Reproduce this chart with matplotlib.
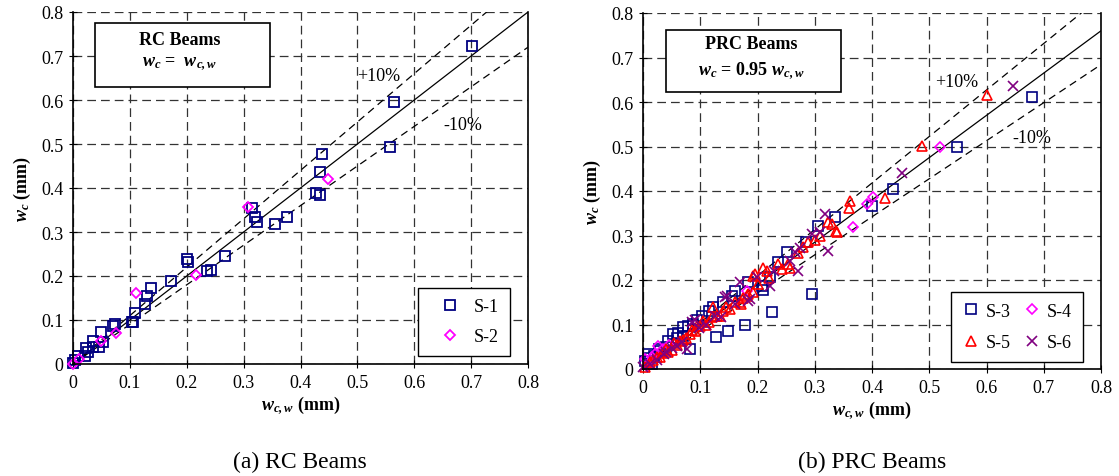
import matplotlib
matplotlib.use("Agg")
import matplotlib.pyplot as plt
import numpy as np
from matplotlib.patches import Rectangle

plt.rcParams['font.family'] = ['Liberation Serif', 'DejaVu Serif']
plt.rcParams['mathtext.fontset'] = 'custom'
plt.rcParams['mathtext.rm'] = 'Liberation Serif'
plt.rcParams['mathtext.it'] = 'Liberation Serif:italic'
plt.rcParams['mathtext.bf'] = 'Liberation Serif:bold'
plt.rcParams['mathtext.bfit'] = 'Liberation Serif:italic:bold'

# ---- data: (a) RC beams
s1_x = [0.701, 0.565, 0.557, 0.437, 0.434, 0.428, 0.434, 0.376, 0.355, 0.323, 0.320, 0.314,
        0.268, 0.242, 0.235, 0.203, 0.200, 0.172, 0.137, 0.130, 0.127, 0.109, 0.105, 0.103,
        0.074, 0.071, 0.050, 0.053, 0.035, 0.036, 0.045, 0.023, 0.027, 0.021, 0.009, 0.003, 0.000]
s1_y = [0.723, 0.595, 0.494, 0.477, 0.436, 0.389, 0.384, 0.333, 0.318, 0.322, 0.333, 0.354,
        0.246, 0.214, 0.212, 0.231, 0.239, 0.188, 0.172, 0.154, 0.136, 0.116, 0.096, 0.095,
        0.091, 0.086, 0.072, 0.049, 0.052, 0.038, 0.038, 0.036, 0.028, 0.019, 0.019, 0.008, 0.003]
s2_x = [0.448, 0.308, 0.217, 0.111, 0.076, 0.049, 0.010, 0.000]
s2_y = [0.420, 0.356, 0.202, 0.161, 0.070, 0.053, 0.011, 0.000]

# ---- data: (b) PRC beams
s3_x = [0.679, 0.548, 0.436, 0.400, 0.335, 0.305, 0.284, 0.251, 0.236, 0.222, 0.207, 0.210,
        0.296, 0.225, 0.178, 0.149, 0.128, 0.184, 0.161, 0.123, 0.103, 0.079, 0.070, 0.053,
        0.044, 0.082, 0.070, 0.009, 0.003, 0.020, 0.030, 0.015, 0.095, 0.115, 0.060, 0.040,
        0.140, 0.155, 0.088, 0.062, 0.028, 0.012]
s3_y = [0.611, 0.498, 0.404, 0.367, 0.341, 0.321, 0.285, 0.262, 0.241, 0.206, 0.187, 0.178,
        0.169, 0.129, 0.099, 0.085, 0.071, 0.196, 0.176, 0.140, 0.120, 0.097, 0.094, 0.079,
        0.064, 0.045, 0.075, 0.034, 0.019, 0.030, 0.040, 0.012, 0.110, 0.130, 0.070, 0.050,
        0.150, 0.165, 0.102, 0.080, 0.045, 0.025]
s4_x = [0.518, 0.401, 0.392, 0.366, 0.181, 0.003, 0.012, 0.021, 0.027, 0.035, 0.045, 0.016, 0.008]
s4_y = [0.500, 0.386, 0.371, 0.320, 0.176, 0.022, 0.015, 0.034, 0.052, 0.045, 0.055, 0.028, 0.010]
s5_x = [0.600, 0.487, 0.423, 0.362, 0.359, 0.330, 0.337, 0.324, 0.338, 0.289, 0.254, 0.236,
        0.257, 0.242, 0.210, 0.196, 0.216, 0.181, 0.193, 0.172, 0.193, 0.152, 0.134, 0.123,
        0.169, 0.184, 0.120, 0.100, 0.094, 0.082, 0.065, 0.041, 0.044, 0.024, 0.012, 0.003,
        0.110, 0.140, 0.160, 0.060, 0.075, 0.050, 0.030, 0.090, 0.130, 0.200, 0.270, 0.300,
        0.105, 0.115, 0.085, 0.070, 0.055, 0.035, 0.018, 0.145, 0.175, 0.220, 0.280, 0.310]
s5_y = [0.616, 0.502, 0.384, 0.378, 0.361, 0.326, 0.309, 0.330, 0.307, 0.285, 0.236, 0.236,
        0.228, 0.225, 0.228, 0.213, 0.221, 0.165, 0.172, 0.146, 0.210, 0.135, 0.120, 0.139,
        0.150, 0.169, 0.116, 0.097, 0.097, 0.079, 0.062, 0.045, 0.038, 0.026, 0.015, 0.005,
        0.100, 0.130, 0.150, 0.055, 0.070, 0.042, 0.028, 0.085, 0.120, 0.190, 0.260, 0.290,
        0.108, 0.105, 0.088, 0.065, 0.058, 0.035, 0.020, 0.140, 0.160, 0.205, 0.275, 0.300]
s6_x = [0.647, 0.452, 0.318, 0.324, 0.309, 0.295, 0.274, 0.266, 0.271, 0.257, 0.228, 0.222,
        0.199, 0.184, 0.169, 0.146, 0.091, 0.143, 0.085, 0.137, 0.187, 0.059, 0.036, 0.012,
        0.000, 0.076, 0.110, 0.050, 0.025, 0.125, 0.160, 0.098, 0.068, 0.040]
s6_y = [0.635, 0.440, 0.348, 0.266, 0.307, 0.303, 0.273, 0.262, 0.221, 0.243, 0.221, 0.187,
        0.206, 0.153, 0.195, 0.165, 0.109, 0.161, 0.105, 0.116, 0.157, 0.052, 0.034, 0.011,
        0.004, 0.045, 0.100, 0.048, 0.020, 0.118, 0.145, 0.092, 0.060, 0.038]

ticks = [0, 0.1, 0.2, 0.3, 0.4, 0.5, 0.6, 0.7, 0.8]
tick_labels = ['0', '0.1', '0.2', '0.3', '0.4', '0.5', '0.6', '0.7', '0.8']

fig = plt.figure(figsize=(11.19, 4.77), dpi=100)
W, H = 1119.0, 477.0
axL = fig.add_axes([73 / W, 1 - 365 / H, 455 / W, 352 / H])
axR = fig.add_axes([643 / W, 1 - 370 / H, 458 / W, 356 / H])


def style_axes(ax):
    ax.set_xlim(0, 0.8)
    ax.set_ylim(0, 0.8)
    ax.set_xticks(ticks)
    ax.set_yticks(ticks)
    ax.set_xticklabels(tick_labels)
    ax.set_yticklabels(tick_labels)
    ax.tick_params(direction='inout', length=6, width=0.8, labelsize=13, pad=4)
    ax.grid(True, color='#333333', linestyle=(0, (7, 4)), linewidth=0.9)
    ax.set_axisbelow(True)
    ax.spines['top'].set_visible(False)
    for s in ['left', 'bottom', 'right']:
        ax.spines[s].set_linewidth(1.2)
    ax.set_xlabel(r'$\mathbfit{w}_{\mathbfit{c,w}}$ (mm)', fontsize=13, fontweight='bold', labelpad=2)
    ax.set_ylabel(r'$\mathbfit{w}_{\mathbfit{c}}$ (mm)', fontsize=13, fontweight='bold', labelpad=6)


xl = np.array([0, 0.8])

# left panel
style_axes(axL)
axL.plot(xl, xl, color='black', lw=0.9)
axL.plot(xl, 1.1 * xl, color='black', lw=0.9, linestyle=(0, (6, 4)))
axL.plot(xl, 0.9 * xl, color='black', lw=0.9, linestyle=(0, (6, 4)))
axL.plot(s1_x, s1_y, 's', mfc='none', mec='#000080', ms=7, mew=1.3, label='S-1', clip_on=False)
axL.plot(s2_x, s2_y, 'D', mfc='none', mec='#FF00FF', ms=5.5, mew=1.3, label='S-2', clip_on=False)
axL.text(0.538, 0.655, '+10%', fontsize=13, ha='center', va='center')
axL.text(0.686, 0.545, '-10%', fontsize=13, ha='center', va='center')
axL.add_patch(Rectangle((0.048, 0.787), 0.385, 0.182, transform=axL.transAxes,
                        fc='white', ec='black', lw=1.2, zorder=5))
axL.text(0.235, 0.923, 'RC Beams', transform=axL.transAxes, fontsize=13,
         fontweight='bold', ha='center', va='center', zorder=6)
axL.text(0.235, 0.855, r'$\mathbfit{w}_{\mathbfit{c}}$ =  $\mathbfit{w}_{\mathbfit{c,w}}$',
         transform=axL.transAxes, fontsize=13, fontweight='bold', ha='center', va='center', zorder=6)
legL = axL.legend(loc='lower right', bbox_to_anchor=(0.96, 0.023), fontsize=13,
                  fancybox=False, edgecolor='black', framealpha=1, handlelength=2.4,
                  handletextpad=0.1, borderpad=0.6, labelspacing=0.7, borderaxespad=0)
legL.get_frame().set_linewidth(1.0)

# right panel
style_axes(axR)
axR.plot(xl, 0.95 * xl, color='black', lw=0.9)
axR.plot(xl, 1.1 * 0.95 * xl, color='black', lw=0.9, linestyle=(0, (6, 4)))
axR.plot(xl, 0.9 * 0.95 * xl, color='black', lw=0.9, linestyle=(0, (6, 4)))
h3, = axR.plot(s3_x, s3_y, 's', mfc='none', mec='#000080', ms=6.5, mew=1.2, label='S-3', clip_on=False)
h4, = axR.plot(s4_x, s4_y, 'D', mfc='none', mec='#FF00FF', ms=5, mew=1.2, label='S-4', clip_on=False)
h5, = axR.plot(s5_x, s5_y, '^', mfc='none', mec='#FF0000', ms=7, mew=1.2, label='S-5', clip_on=False)
h6, = axR.plot(s6_x, s6_y, 'x', color='#800080', ms=7, mew=1.2, label='S-6', clip_on=False)
axR.text(0.548, 0.647, '+10%', fontsize=13, ha='center', va='center')
axR.text(0.68, 0.521, '-10%', fontsize=13, ha='center', va='center')
axR.add_patch(Rectangle((0.05, 0.778), 0.382, 0.174, transform=axR.transAxes,
                        fc='white', ec='black', lw=1.2, zorder=5))
axR.text(0.236, 0.913, 'PRC Beams', transform=axR.transAxes, fontsize=13,
         fontweight='bold', ha='center', va='center', zorder=6)
axR.text(0.236, 0.84, r'$\mathbfit{w}_{\mathbfit{c}}$ = 0.95 $\mathbfit{w}_{\mathbfit{c,w}}$',
         transform=axR.transAxes, fontsize=13, fontweight='bold', ha='center', va='center', zorder=6)
# row-wise order: S-3 S-4 / S-5 S-6
legR = axR.legend([h3, h5, h4, h6], ['S-3', 'S-5', 'S-4', 'S-6'],
                  loc='lower right', bbox_to_anchor=(0.96, 0.02), ncol=2, fontsize=13,
                  fancybox=False, edgecolor='black', framealpha=1, handlelength=1,
                  handletextpad=0.3, borderpad=0.6, labelspacing=0.8, columnspacing=0.7,
                  borderaxespad=0)
legR.get_frame().set_linewidth(1.0)

fig.text(300 / W, 1 - 462 / H, '(a) RC Beams', fontsize=17, ha='center', va='center')
fig.text(872 / W, 1 - 462 / H, '(b) PRC Beams', fontsize=17, ha='center', va='center')

fig.savefig('out.png', dpi=100)
